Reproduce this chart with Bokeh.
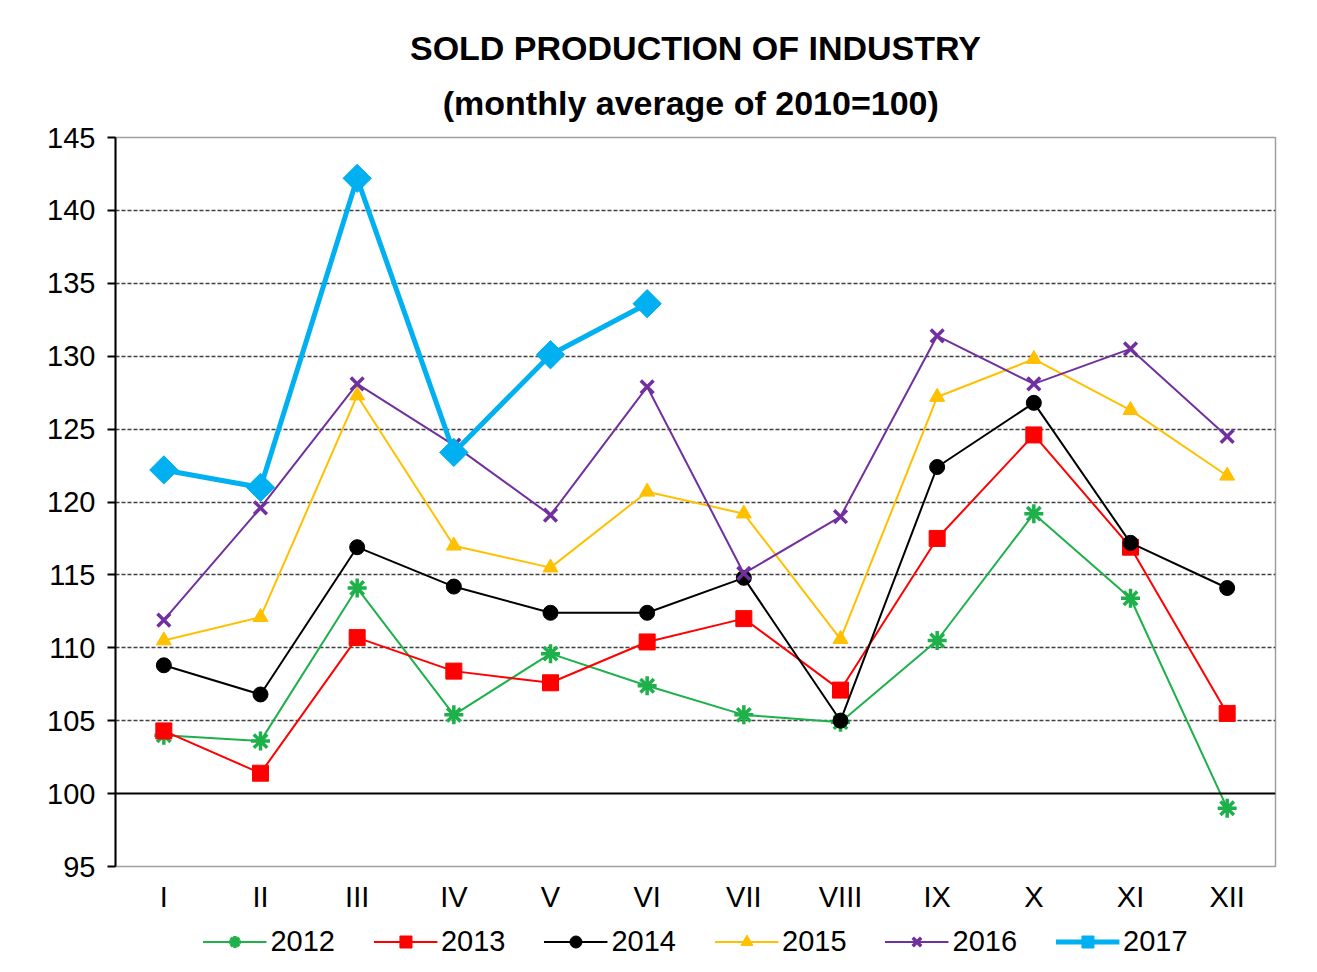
from bokeh.plotting import figure
from bokeh.layouts import column
from bokeh.models import FactorRange, Range1d, FixedTicker, Span, Title, Legend
from bokeh.embed import file_html
from bokeh.resources import INLINE

months = ["I", "II", "III", "IV", "V", "VI", "VII", "VIII", "IX", "X", "XI", "XII"]
y2012 = [104.0, 103.6, 114.1, 105.4, 109.6, 107.4, 105.4, 104.9, 110.5, 119.2, 113.4, 99.0]
y2013 = [104.3, 101.4, 110.7, 108.4, 107.6, 110.4, 112.0, 107.1, 117.5, 124.6, 116.9, 105.5]
y2014 = [108.8, 106.8, 116.9, 114.2, 112.4, 112.4, 114.8, 105.0, 122.4, 126.8, 117.2, 114.1]
y2015 = [110.5, 112.1, 127.3, 117.0, 115.5, 120.7, 119.2, 110.6, 127.2, 129.8, 126.3, 121.8]
y2016 = [111.9, 119.6, 128.1, 123.9, 119.1, 127.9, 115.1, 119.0, 131.4, 128.1, 130.5, 124.5]
y2017 = [122.2, 121.0, 142.2, 123.4, 130.1, 133.6]
y_ticks = [95, 100, 105, 110, 115, 120, 125, 130, 135, 140, 145]

FONT = "Liberation Sans"

p = figure(x_range=FactorRange(*months), y_range=Range1d(95, 145),
           frame_width=1160, frame_height=729, output_backend="svg",
           toolbar_location=None,
           min_border_left=115, min_border_right=34, min_border_top=137,
           min_border_bottom=0)

p.outline_line_color = "#a0a0a0"
p.outline_line_width = 1.5
p.background_fill_color = "white"
p.border_fill_color = "white"

t2 = Title(text="(monthly  average of 2010=100)", align="center",
           text_font=FONT, text_font_size="34px", text_font_style="bold",
           text_color="black", standoff=31)
t1 = Title(text="SOLD PRODUCTION OF INDUSTRY", align="center",
           text_font=FONT, text_font_size="34px", text_font_style="bold",
           text_color="black", standoff=0)
p.add_layout(t2, "above")
p.add_layout(t1, "above")

# axes
p.yaxis.ticker = FixedTicker(ticks=y_ticks)
p.yaxis.axis_line_color = "black"
p.yaxis.axis_line_width = 2
p.yaxis.major_tick_line_color = "black"
p.yaxis.major_tick_line_width = 2
p.yaxis.major_tick_out = 8
p.yaxis.major_tick_in = 0
p.yaxis.minor_tick_line_color = None
p.yaxis.major_label_text_font = FONT
p.yaxis.major_label_text_font_size = "29px"
p.yaxis.major_label_text_color = "black"
p.yaxis.major_label_standoff = 12

p.xaxis.axis_line_color = None
p.xaxis.major_tick_line_color = None
p.xaxis.minor_tick_line_color = None
p.xaxis.major_tick_out = 0
p.xaxis.major_label_text_font = FONT
p.xaxis.major_label_text_font_size = "29px"
p.xaxis.major_label_text_color = "black"
p.xaxis.major_label_standoff = 14

p.xgrid.grid_line_color = None
p.ygrid.ticker = FixedTicker(ticks=[105, 110, 115, 120, 125, 130, 135, 140])
p.ygrid.grid_line_color = "#404040"
p.ygrid.grid_line_width = 1.3
p.ygrid.grid_line_dash = "4 2"

p.add_layout(Span(location=100, dimension="width", line_color="black", line_width=2))

series = [
    ("2012", y2012, "#1db04b", "asterisk", 19, 2, 0),
    ("2013", y2013, "#ff0000", "square", 16, 2, 0),
    ("2014", y2014, "#000000", "circle", 15, 2, 0),
    ("2015", y2015, "#ffc000", "triangle", 15, 2, 0),
    ("2016", y2016, "#7030a0", "x", 18, 2, 0),
    ("2017", y2017, "#00b0f0", "square", 20, 5, 45),
]

# legend strip below the chart (its own small figure, same series styles)
leg = figure(x_range=FactorRange(*months), y_range=Range1d(0, 1),
             width=1309, height=52, output_backend="svg", toolbar_location=None,
             x_axis_type=None, y_axis_type=None,
             min_border_left=0, min_border_right=15, min_border_top=0,
             min_border_bottom=0)
leg.outline_line_color = None
leg.xgrid.grid_line_color = None
leg.ygrid.grid_line_color = None

items = []
for name, ys, color, marker, size, lw, ang in series:
    xs = months[:len(ys)]
    mlw = 3.5 if marker in ("asterisk", "x") else 1
    p.line(xs, ys, line_color=color, line_width=lw)
    p.scatter(xs, ys, marker=marker, size=size, line_color=color,
              line_width=mlw, fill_color=color, angle=ang, angle_units="deg")
    l1 = leg.line(xs, ys, line_color=color, line_width=lw)
    l2 = leg.scatter(xs, ys, marker=marker, size=size, line_color=color,
                     line_width=mlw, fill_color=color, angle=ang, angle_units="deg")
    items.append((name, [l1, l2]))

legend = Legend(items=items, orientation="horizontal", location="center",
                label_text_font=FONT, label_text_font_size="29px",
                label_text_color="black", glyph_width=64, glyph_height=30,
                spacing=38, label_standoff=4, border_line_color=None,
                background_fill_alpha=0, padding=0, margin=0)
leg.add_layout(legend, "center")

layout = column(p, leg, spacing=0)
open("out.html", "w").write(file_html(layout, INLINE))
